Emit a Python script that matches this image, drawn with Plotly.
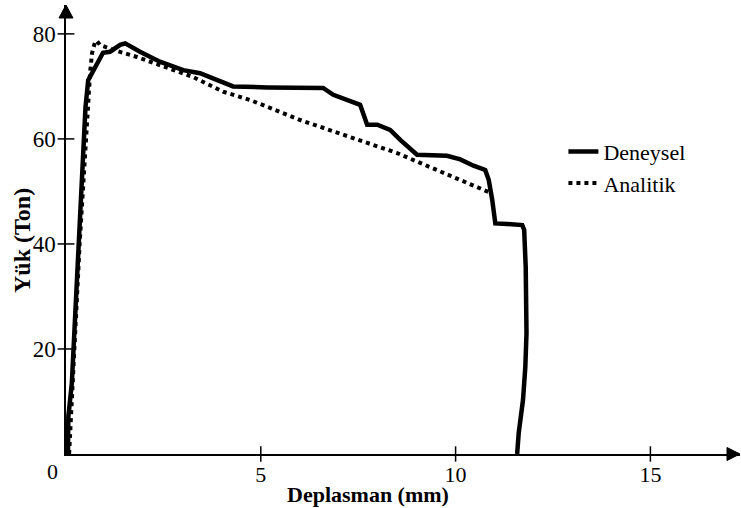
import plotly.graph_objects as go

# Deneysel (experimental) curve
den_x = [0.05, 0.06, 0.15, 0.19, 0.27, 0.31, 0.44, 0.50, 0.57, 0.75, 0.95, 1.13, 1.39, 1.52, 1.90,
         2.41, 3.01, 3.44, 3.96, 4.29, 5.16, 6.60, 6.86, 7.22, 7.55, 7.73, 7.99, 8.32, 8.58, 9.01,
         9.78, 10.12, 10.46, 10.76, 10.85, 10.94, 11.02, 11.32, 11.71, 11.76, 11.80, 11.82, 11.79,
         11.73, 11.62, 11.58]
den_y = [0.0, 7.1, 13.5, 19.8, 29.3, 39.8, 59.6, 66.0, 71.2, 73.5, 76.4, 76.6, 77.9, 78.2, 76.6,
         74.7, 73.1, 72.5, 70.9, 70.0, 69.8, 69.7, 68.4, 67.4, 66.5, 62.7, 62.7, 61.7, 59.8, 57.0,
         56.8, 56.1, 54.9, 54.1, 52.2, 48.4, 43.9, 43.8, 43.6, 42.7, 35.6, 23.0, 16.6,
         10.3, 4.0, 0.0]

# Analitik (analytical) curve
ana_x = [0.08, 0.35, 0.62, 0.67, 0.74, 0.79, 0.87, 1.00, 1.20, 1.82, 2.41, 3.26, 4.03, 4.73,
         6.01, 8.07, 8.50, 10.84]
ana_y = [0.0, 40.0, 72.8, 76.4, 78.3, 78.7, 77.9, 77.5, 77.0, 75.6, 74.1, 71.8, 69.0, 67.4,
         63.6, 58.3, 57.3, 49.9]

x_ticks = [5, 10, 15]
y_ticks = [20, 40, 60, 80]
x_title = "Deplasman (mm)"
y_title = "Yük (Ton)"

FONT = "Liberation Serif"

fig = go.Figure()
fig.add_trace(go.Scatter(x=den_x, y=den_y, mode="lines", name="Deneysel",
                         line=dict(color="black", width=4.5)))
fig.add_trace(go.Scatter(x=ana_x, y=ana_y, mode="lines", name="Analitik",
                         line=dict(color="black", width=4, dash="4px,4px")))

# crossing tick marks
fig.add_trace(go.Scatter(x=x_ticks, y=[0] * len(x_ticks), mode="markers", showlegend=False,
                         hoverinfo="skip", cliponaxis=False,
                         marker=dict(symbol="line-ns", size=11, line=dict(color="black", width=1.5))))
fig.add_trace(go.Scatter(x=[0] * len(y_ticks), y=y_ticks, mode="markers", showlegend=False,
                         hoverinfo="skip", cliponaxis=False,
                         marker=dict(symbol="line-ew", size=12, line=dict(color="black", width=1.5))))

fig.update_layout(
    width=741, height=508,
    margin=dict(l=66, r=1, t=5, b=54),
    paper_bgcolor="white", plot_bgcolor="white",
    font=dict(family=FONT, size=22, color="black"),
    xaxis=dict(range=[0, 17.3], showline=True, linecolor="black", linewidth=1.5,
               showgrid=False, zeroline=False, tickvals=x_ticks, ticks="",
               tickfont=dict(family=FONT, size=22), ticklabelstandoff=0),
    yaxis=dict(range=[0, 85.5], showline=True, linecolor="black", linewidth=1.5,
               showgrid=False, zeroline=False, tickvals=y_ticks, ticks="",
               tickfont=dict(family=FONT, size=23), ticklabelstandoff=4),
    legend=dict(x=0.738, y=0.72, xanchor="left", yanchor="top", bgcolor="rgba(0,0,0,0)",
                font=dict(family=FONT, size=22), tracegroupgap=0),
    showlegend=True,
)

fig.add_annotation(x=0, y=0, xref="x", yref="y", text="0", showarrow=False,
                   xshift=-14, yshift=-17, font=dict(family=FONT, size=22))
fig.add_annotation(x=(368 - 66) / 674, y=(454 - 495) / 449, xref="paper", yref="paper",
                   text="<b>" + x_title + "</b>", showarrow=False,
                   font=dict(family=FONT, size=22), xanchor="center", yanchor="middle")
fig.add_annotation(x=(22 - 66) / 674, y=(454 - 240) / 449, xref="paper", yref="paper",
                   text="<b>" + y_title + "</b>", showarrow=False, textangle=-90,
                   font=dict(family=FONT, size=24), xanchor="center", yanchor="middle")

# axis arrowheads
fig.add_shape(type="path", xref="paper", yref="paper", xsizemode="pixel", ysizemode="pixel",
              xanchor=0, yanchor=1, path="M-7,-13 L7,-13 L0,0 Z",
              fillcolor="black", line=dict(color="black", width=1))
fig.add_shape(type="path", xref="paper", yref="paper", xsizemode="pixel", ysizemode="pixel",
              xanchor=1, yanchor=0, path="M-13,-6.5 L-13,6.5 L0,0 Z",
              fillcolor="black", line=dict(color="black", width=1))

fig.write_html("out.html")
